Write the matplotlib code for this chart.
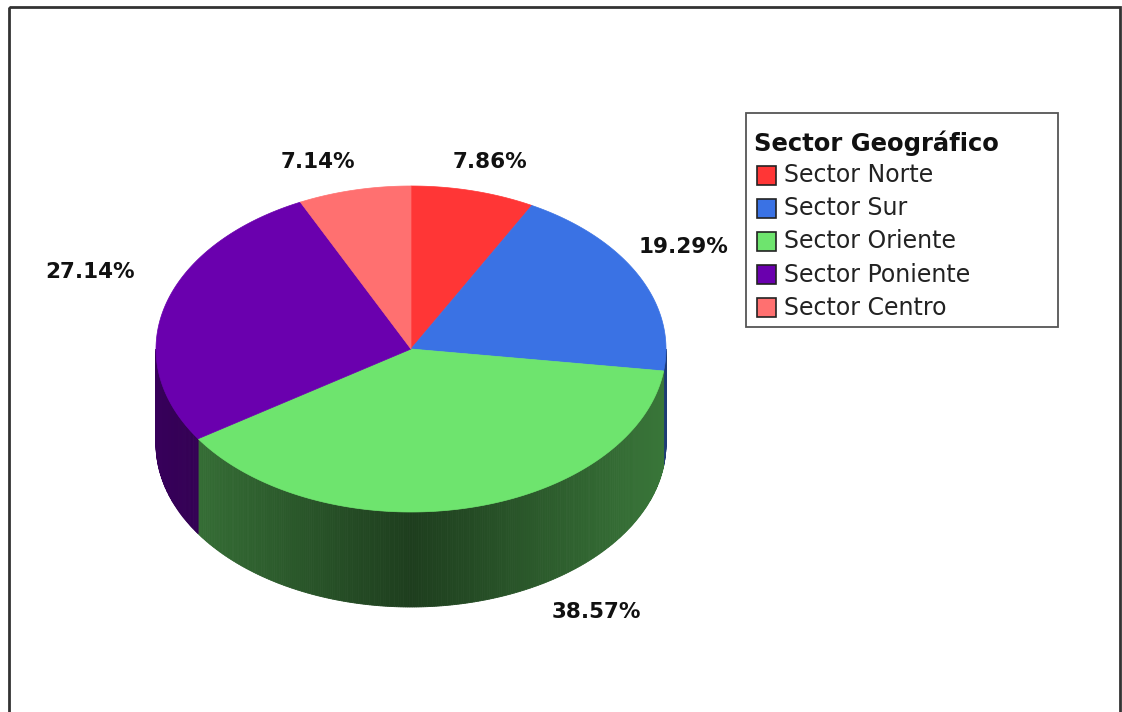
import numpy as np
import matplotlib.pyplot as plt
from matplotlib.patches import Polygon, Rectangle

# Datos del gráfico
sectores = ['Sector Norte', 'Sector Sur', 'Sector Oriente', 'Sector Poniente', 'Sector Centro']
porcentajes = [7.86, 19.29, 38.57, 27.14, 7.14]
colores = ['#ff3636', '#3a72e4', '#6ee46e', '#6a00ae', '#ff7070']
titulo_leyenda = 'Sector Geográfico'

# Geometría del pastel 3D (en píxeles)
cx, cy = 411, 349
rx, ry = 255, 163
prof = 95
inicio = 90.0

# Ajuste fino de las etiquetas (px)
etiqueta_rx, etiqueta_ry = 300, 200
ajuste_etiq = [(6, 7), (5, -11), (119, -27), (-32, -24), (-26, 8)]


def punto(theta, k=1.0, dy=0.0):
    t = np.radians(theta)
    return cx + k * rx * np.cos(t), cy - k * ry * np.sin(t) + dy


def oscurecer(color, f):
    c = np.array(plt.matplotlib.colors.to_rgb(color))
    return tuple(c * f)


fig = plt.figure(figsize=(11.22, 7.12), dpi=100)
ax = fig.add_axes([0, 0, 1, 1])
ax.set_xlim(0, 1122)
ax.set_ylim(712, 0)
ax.axis('off')

# Ángulos de cada sector (sentido horario desde arriba)
limites = [inicio]
for p in porcentajes:
    limites.append(limites[-1] - p / 100.0 * 360.0)

# Paredes laterales (solo la mitad frontal es visible)
for i, col in enumerate(colores):
    a0, a1 = limites[i], limites[i + 1]
    # parte frontal: ángulos entre -180 y 0 (o 180..360)
    for base in (0, -360):
        lo = max(a1, -180 + base)
        hi = min(a0, 0 + base)
        if hi <= lo:
            continue
        angs = np.linspace(hi, lo, max(2, int((hi - lo) * 2)))
        for j in range(len(angs) - 1):
            t0, t1 = angs[j], angs[j + 1]
            x0, y0 = punto(t0)
            x1, y1 = punto(t1)
            sombra = 0.27 + 0.25 * abs(np.cos(np.radians((t0 + t1) / 2)))
            quad = [(x0, y0), (x1, y1), (x1, y1 + prof), (x0, y0 + prof)]
            ax.add_patch(Polygon(quad, closed=True, facecolor=oscurecer(col, sombra),
                                 edgecolor=oscurecer(col, sombra), linewidth=0.6))

# Cara superior
for i, col in enumerate(colores):
    a0, a1 = limites[i], limites[i + 1]
    angs = np.linspace(a0, a1, 200)
    xs, ys = punto(angs)
    pts = [(cx, cy)] + list(zip(xs, ys))
    ax.add_patch(Polygon(pts, closed=True, facecolor=col, edgecolor=col, linewidth=0.5))

# Etiquetas de porcentaje
for i, p in enumerate(porcentajes):
    medio = (limites[i] + limites[i + 1]) / 2
    t = np.radians(medio)
    x = cx + etiqueta_rx * np.cos(t)
    y = cy - etiqueta_ry * np.sin(t)
    if np.sin(t) < 0:
        y += prof
    dx, dy = ajuste_etiq[i]
    ax.text(x + dx, y + dy, f'{p:.2f}%', fontsize=15.5, fontweight='bold',
            color='#111111', ha='center', va='center', family='DejaVu Sans')

# Leyenda
ax.add_patch(Rectangle((746, 113), 312, 214, facecolor='white', edgecolor='#555555', linewidth=1.3))
ax.text(754, 143, titulo_leyenda, fontsize=17.5, fontweight='bold', color='#111111',
        ha='left', va='center', family='DejaVu Sans')
for i, (nombre, col) in enumerate(zip(sectores, colores)):
    yy = 175 + i * 33.2
    ax.add_patch(Rectangle((757, yy - 9.5), 19, 19, facecolor=col, edgecolor='#222222', linewidth=1.2))
    ax.text(784, yy, nombre, fontsize=17, color='#222222', ha='left', va='center',
            family='DejaVu Sans')

# Marco exterior
ax.add_patch(Rectangle((9, 7), 1111, 720, facecolor='none', edgecolor='#333333',
                       linewidth=2, clip_on=False))

fig.savefig('out.png', dpi=100, facecolor='white')
